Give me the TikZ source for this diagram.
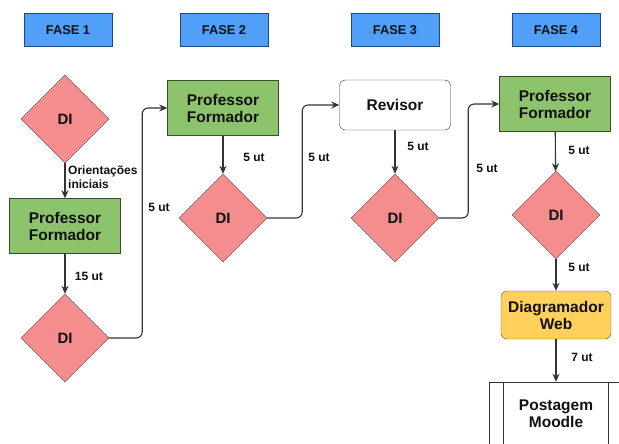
\documentclass[tikz,border=0pt]{standalone}
\usepackage{fontspec}
\setmainfont{Liberation Sans}
\usepackage{tikz}
\usetikzlibrary{shapes}
\usetikzlibrary{arrows.meta}
\definecolor{ColFase}{RGB}{80,160,250}
\definecolor{ColDI}{RGB}{244,141,141}
\definecolor{ColProf}{RGB}{140,195,108}
\definecolor{ColWeb}{RGB}{255,208,92}
\definecolor{ColLine}{RGB}{51,51,51}
\definecolor{ColText}{RGB}{17,17,17}
\tikzstyle{Fase}=[rectangle,draw=ColFase!45!black,fill=ColFase,
minimum width=88,minimum height=33,font=\bfseries\fontsize{12.8}{14}\selectfont,
text=ColText]
\tikzstyle{Dec}=[diamond,aspect=1,draw=ColDI!45!black,fill=ColDI,
minimum width=88,minimum height=88,inner sep=0pt,
font=\bfseries\fontsize{15}{17}\selectfont,text=ColText]
\tikzstyle{Prof}=[rectangle,draw=ColProf!40!black,fill=ColProf,
minimum width=111,minimum height=55,align=center,
font=\bfseries\fontsize{15.5}{17}\selectfont,text=ColText]
\tikzstyle{Rev}=[Prof,draw=ColLine,fill=white,rounded corners=6pt,
minimum height=50]
\tikzstyle{Web}=[Prof,draw=ColWeb!40!black,fill=ColWeb,rounded corners=6pt,
minimum width=110,minimum height=48]
\tikzstyle{Post}=[Prof,draw=ColLine,fill=white,minimum width=134,
minimum height=64]
\tikzstyle{Edge}=[draw=ColLine,line width=1.1pt,rounded corners=6pt,
-{Stealth[length=8pt,width=7pt]}]
\tikzstyle{Time}=[font=\bfseries\fontsize{12}{14}\selectfont,text=ColText,
inner sep=0pt]

\begin{document}
\begin{tikzpicture}[x=1pt,y=-1pt]
        \useasboundingbox (0,0) rectangle (619,444);
        \fill[white] (0,0) rectangle (619,444);
        % fases
        \node[Fase](f1)at(68,30){FASE 1};
        \node[Fase](f2)at(224,30){FASE 2};
        \node[Fase](f3)at(395,30){FASE 3};
        \node[Fase](f4)at(556,30){FASE 4};
        % fase 1
        \node[Dec](d1)at(65,119){DI};
        \node[Prof](p1)at(65,226){Professor\\Formador};
        \node[Dec](d2)at(65,338){DI};
        % fase 2
        \node[Prof](p2)at(223,108){Professor\\Formador};
        \node[Dec](d3)at(223,218){DI};
        % fase 3
        \node[Rev](r)at(395,105){Revisor};
        \node[Dec](d4)at(395,218){DI};
        % fase 4
        \node[Prof](p3)at(555,104){Professor\\Formador};
        \node[Dec](d5)at(556,215){DI};
        \node[Web](w)at(556,315){Diagramador\\Web};
        \node[Post](post)at(556,414){Postagem\\Moodle};
        \draw[ColLine,line width=1.1pt]([xshift=15]post.north west)
            --([xshift=15]post.south west);
        \draw[ColLine,line width=1.1pt]([xshift=-15]post.north east)
            --([xshift=-15]post.south east);
        % connectors
        \draw[Edge](d1)--(p1);
        \draw[Edge](p1)--(d2);
        \draw[Edge](d2.east)--++(33,0)|-(p2.west);
        \draw[Edge](p2)--(d3);
        \draw[Edge](d3.east)--++(35,0)|-(r.west);
        \draw[Edge](r)--(d4);
        \draw[Edge](d4.east)--++(29,0)|-(p3.west);
        \draw[Edge](p3)--(d5);
        \draw[Edge](d5)--(w);
        \draw[Edge](w)--(post);
        % times
        \node[Time,anchor=west,align=left](t0)at(68,177)
            {Orientações\\iniciais};
        \node[Time](t1)at(89,276){15 ut};
        \node[Time](t2)at(159,207){5 ut};
        \node[Time](t3)at(254,157){5 ut};
        \node[Time](t4)at(319,157){5 ut};
        \node[Time](t5)at(418,146){5 ut};
        \node[Time](t6)at(487,168){5 ut};
        \node[Time](t7)at(579,150){5 ut};
        \node[Time](t8)at(579,267){5 ut};
        \node[Time](t9)at(582,357){7 ut};
    \end{tikzpicture}
\end{document}
